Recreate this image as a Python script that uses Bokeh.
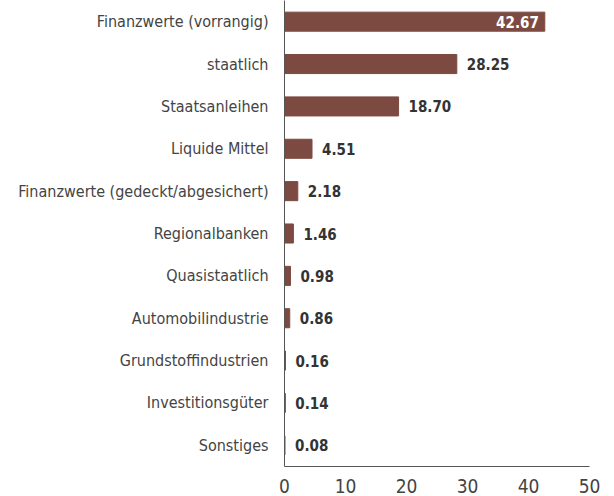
from bokeh.plotting import figure
from bokeh.models import ColumnDataSource, FactorRange
from bokeh.core.properties import value
from bokeh.embed import file_html
from bokeh.resources import INLINE

categories = [
    "Finanzwerte (vorrangig)",
    "staatlich",
    "Staatsanleihen",
    "Liquide Mittel",
    "Finanzwerte (gedeckt/abgesichert)",
    "Regionalbanken",
    "Quasistaatlich",
    "Automobilindustrie",
    "Grundstoffindustrien",
    "Investitionsgüter",
    "Sonstiges",
]
values = [42.67, 28.25, 18.70, 4.51, 2.18, 1.46, 0.98, 0.86, 0.16, 0.14, 0.08]
x_ticks = [0, 10, 20, 30, 40, 50]

FONT = "DejaVu Sans Condensed"
BAR = "#7d4a42"

labels = [f"{v:.2f}" for v in values]
vmax = max(values)
inside = [v == vmax for v in values]

src_out = ColumnDataSource(dict(
    cat=[c for c, i in zip(categories, inside) if not i],
    val=[v for v, i in zip(values, inside) if not i],
    lab=[l for l, i in zip(labels, inside) if not i],
))
src_in = ColumnDataSource(dict(
    cat=[c for c, i in zip(categories, inside) if i],
    val=[v for v, i in zip(values, inside) if i],
    lab=[l for l, i in zip(labels, inside) if i],
))
src = ColumnDataSource(dict(cat=categories, val=values))

p = figure(
    width=614, height=496,
    y_range=FactorRange(factors=list(reversed(categories)), range_padding=0),
    x_range=(0, 50),
    output_backend="svg", toolbar_location=None,
    min_border_left=284, min_border_right=25, min_border_top=0, min_border_bottom=30,
)
p.outline_line_color = None
p.background_fill_color = "white"
p.border_fill_color = "white"

p.hbar(y="cat", right="val", left=0, height=0.45, source=src, color=BAR)

p.text(x="val", y="cat", text="lab", source=src_out, x_offset=10,
       text_align="left", text_baseline="middle", text_font=value(FONT),
       text_font_size="15px", text_font_style="bold", text_color="#333333")
p.text(x="val", y="cat", text="lab", source=src_in, x_offset=-6,
       text_align="right", text_baseline="middle", text_font=value(FONT),
       text_font_size="15px", text_font_style="bold", text_color="white")

p.xgrid.visible = False
p.ygrid.visible = False

p.xaxis.ticker = x_ticks
p.xaxis.major_tick_line_color = None
p.xaxis.minor_tick_line_color = None
p.xaxis.axis_line_color = "#555555"
p.xaxis.major_label_text_font = FONT
p.xaxis.major_label_text_font_size = "19px"
p.xaxis.major_label_text_color = "#444444"
p.xaxis.major_label_standoff = 6

p.yaxis.major_tick_line_color = None
p.yaxis.minor_tick_line_color = None
p.yaxis.axis_line_color = "#555555"
p.yaxis.major_label_text_font = FONT
p.yaxis.major_label_text_font_size = "16px"
p.yaxis.major_label_text_color = "#444444"
p.yaxis.major_label_standoff = 10

open("out.html", "w").write(file_html(p, INLINE))
